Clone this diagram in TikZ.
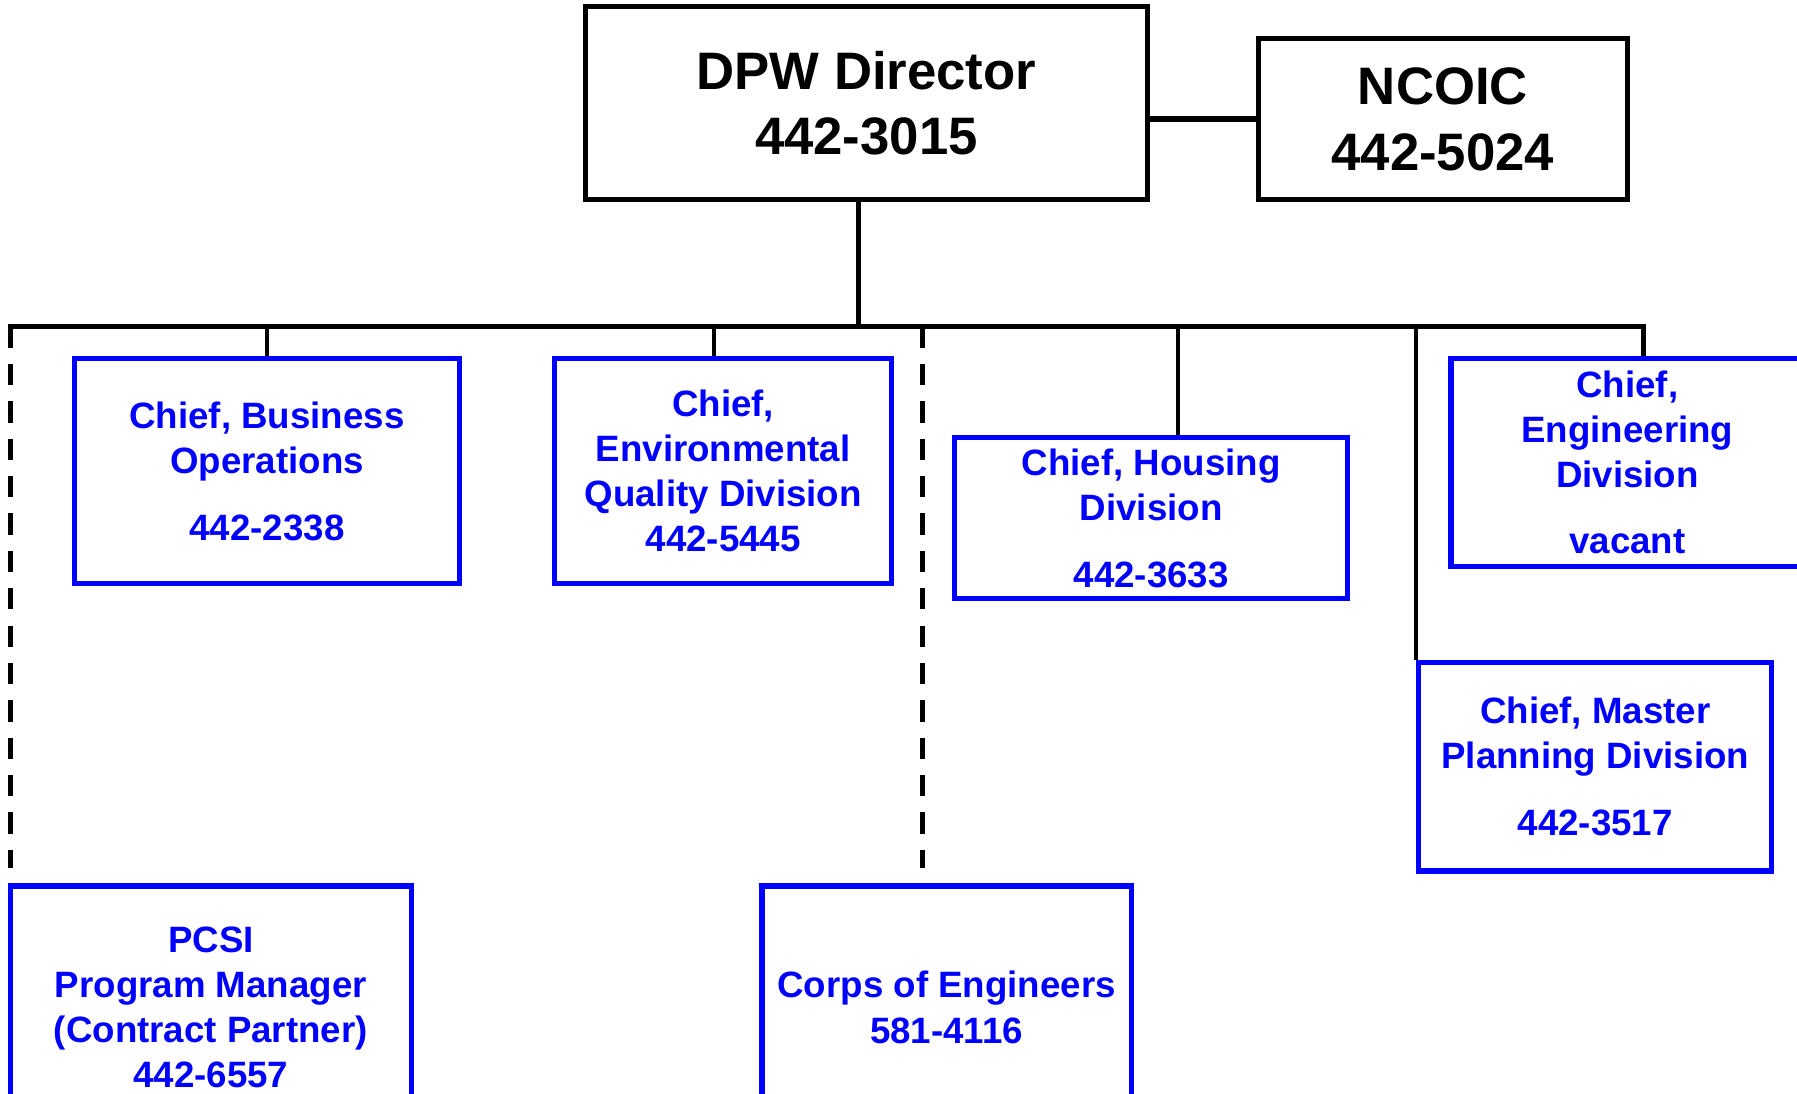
\documentclass[tikz,border=0pt]{standalone}
\usepackage{fontspec}
\setmainfont{Liberation Sans}
\definecolor{orgblue}{RGB}{0,0,255}
\begin{document}
\begin{tikzpicture}[x=0.5pt, y=-0.5pt,
    head/.style={draw, line width=2.2pt, inner sep=0pt, align=center,
      font=\fontsize{23}{28.5}\selectfont\bfseries},
    unit/.style={draw=orgblue, text=orgblue, line width=2.3pt, inner sep=0pt, align=center,
      font=\fontsize{16}{19.65}\selectfont\bfseries},
    link/.style={line width=1.9pt},
    dashlink/.style={line width=2.2pt, dash pattern=on 9.3pt off 7pt, shorten >=6.5pt}]
    \useasboundingbox (0,0) rectangle (1568,954);
    \clip (0,0) rectangle (1568,954);
    % top
    \node[head, minimum width=245pt, minimum height=84pt] (dir) at (756,90) {DPW Director\\442-3015};
    \node[head, minimum width=161pt, minimum height=70pt] (nco) at (1259,104) {NCOIC\\442-5024};
    % divisions
    \node[unit, minimum width=168pt, minimum height=98pt] (bo) at (233,411) {Chief, Business\\Operations\\[9.5pt]442-2338};
    \node[unit, minimum width=147pt, minimum height=98pt] (env) at (631,411) {Chief,\\Environmental\\Quality Division\\442-5445};
    \node[unit, minimum width=171.5pt, minimum height=70pt] (hou) at (1004.5,452) {Chief, Housing\\Division\\[9.5pt]442-3633};
    \node[unit, minimum width=154pt, minimum height=90.5pt] (eng) at (1420,403.5) {Chief,\\Engineering\\Division\\[9.5pt]vacant};
    \node[unit, minimum width=154pt, minimum height=91pt] (mp) at (1392,669) {Chief, Master\\Planning Division\\[9.5pt]442-3517};
    \node[unit, minimum width=175pt, minimum height=106pt] (pcsi) at (184,879) {PCSI\\Program Manager\\(Contract Partner)\\442-6557};
    \node[unit, minimum width=161pt, minimum height=106pt] (coe) at (826,879) {Corps of Engineers\\581-4116};
    % bus
    \coordinate (busL) at (9,285);
    \coordinate (busM) at (749,285);
    \coordinate (busD) at (805,285);
    \coordinate (busR) at (1434,285);
    \draw[link, line width=2.6pt] (nco.west) -- (nco.west -| dir.east);
    \draw[link] (dir.south -| busM) -- (busM);
    \draw[link, line width=2.2pt] ([xshift=-1.1pt]busL) -- (busR) -- (busR |- eng.north);
    \draw[link] (bo.north) -- (bo.north |- busL);
    \draw[link] ([xshift=-4pt]env.north) -- ([xshift=-4pt]env.north |- busL);
    \draw[link] ([xshift=11.75pt]hou.north) -- ([xshift=11.75pt]hou.north |- busL);
    \draw[link] (mp.north west) -- (mp.north west |- busL);
    \draw[dashlink] (busL) -- (busL |- pcsi.north);
    \draw[dashlink] (busD) -- (busD |- coe.north);
\end{tikzpicture}
\end{document}
